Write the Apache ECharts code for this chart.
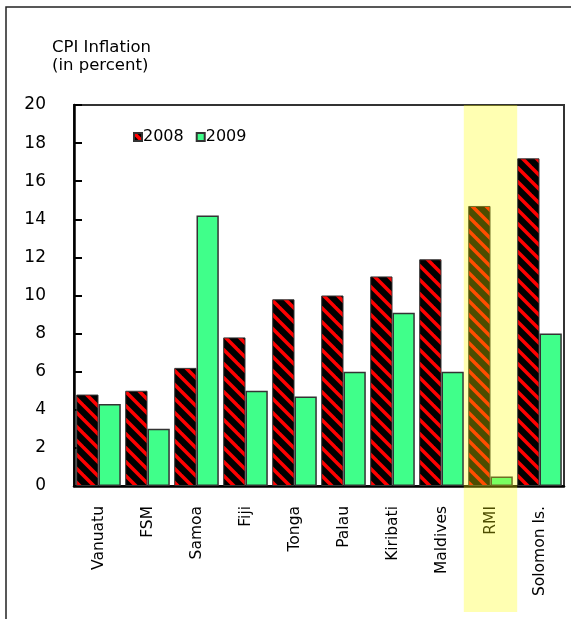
<!DOCTYPE html>
<html>
<head>
<meta charset="utf-8">
<title>CPI Inflation</title>
<script src="https://cdn.jsdelivr.net/npm/echarts@6/dist/echarts.min.js"></script>
<style>
  body { margin: 0; background: #fff; }
</style>
</head>
<body>
<!-- 为 ECharts 准备一个定义了宽高的 DOM -->
<div id="cpiChart" style="width: 571px;height:619px;"></div>

<script>
// data
var countries = ['Vanuatu', 'FSM', 'Samoa', 'Fiji', 'Tonga', 'Palau', 'Kiribati', 'Maldives', 'RMI', 'Solomon Is.'];
var cpi2008 = [4.8, 5.0, 6.2, 7.8, 9.8, 10.0, 11.0, 11.9, 14.7, 17.2];
var cpi2009 = [4.3, 3.0, 14.2, 5.0, 4.7, 6.0, 9.1, 6.0, 0.5, 8.0];
var yTicks = [0, 2, 4, 6, 8, 10, 12, 14, 16, 18, 20];
var highlight = 'RMI';

var font = 'DejaVu Sans, sans-serif';

// black with red diagonal stripes for 2008
function stripePattern() {
  var p = 14;
  var c = document.createElement('canvas');
  c.width = p;
  c.height = p;
  var ctx = c.getContext('2d');
  ctx.fillStyle = '#000';
  ctx.fillRect(0, 0, p, p);
  ctx.strokeStyle = '#ff0000';
  ctx.lineWidth = 3.5;
  for (var k = -1; k <= 1; k++) {
    ctx.beginPath();
    ctx.moveTo(k * p - 2, -2);
    ctx.lineTo(k * p + p + 2, p + 2);
    ctx.stroke();
  }
  return c;
}

var cpiChart = echarts.init(document.getElementById('cpiChart'));

var option = {
  animation: false,
  title: {
    text: 'CPI Inflation\n(in percent)',
    left: 52,
    top: 39,
    padding: 0,
    textStyle: { fontFamily: font, fontSize: 16.5, fontWeight: 'normal', color: '#000', lineHeight: 18 }
  },
  legend: {
    left: 133,
    top: 129,
    padding: 0,
    itemWidth: 8,
    itemHeight: 8,
    itemGap: 12,
    icon: 'rect',
    textStyle: { fontFamily: font, fontSize: 16, color: '#000', padding: [0, 0, 0, -4] },
    data: ['2008', '2009']
  },
  grid: {
    left: 74,
    right: 7,
    top: 105,
    bottom: 133,
    show: true,
    borderColor: '#333',
    borderWidth: 2
  },
  xAxis: {
    type: 'category',
    data: countries,
    axisLine: { lineStyle: { color: '#000', width: 2.5 } },
    axisTick: { inside: true, length: 4, lineStyle: { color: '#555' } },
    axisLabel: { rotate: 90, margin: 20, interval: 0, fontFamily: font, fontSize: 15.5, color: '#000' }
  },
  yAxis: {
    type: 'value',
    min: yTicks[0],
    max: yTicks[yTicks.length - 1],
    interval: yTicks[1] - yTicks[0],
    splitLine: { show: false },
    axisLine: { show: true, lineStyle: { color: '#000', width: 2.5 } },
    axisTick: { show: true, inside: true, length: 8, lineStyle: { color: '#000', width: 2 } },
    axisLabel: { margin: 28, fontFamily: font, fontSize: 17, color: '#000' }
  },
  series: [
    {
      name: '2008',
      type: 'bar',
      data: cpi2008,
      barCategoryGap: '9%',
      barGap: '0%',
      itemStyle: { color: { image: stripePattern(), repeat: 'repeat' }, borderColor: '#333', borderWidth: 1 }
    },
    {
      name: '2009',
      type: 'bar',
      data: cpi2009,
      itemStyle: { color: '#40ff8a', borderColor: '#333', borderWidth: 1.5 }
    }
  ]
};

cpiChart.setOption(option);

// outer frame and the yellow band over RMI, placed from the axes
var cx = cpiChart.convertToPixel({ xAxisIndex: 0 }, highlight);
var catW = cpiChart.convertToPixel({ xAxisIndex: 0 }, countries[1]) - cpiChart.convertToPixel({ xAxisIndex: 0 }, countries[0]);
var yTop = cpiChart.convertToPixel({ yAxisIndex: 0 }, yTicks[yTicks.length - 1]);
var bandW = catW * 1.09;

cpiChart.setOption({
  graphic: [
    {
      type: 'rect',
      z: 100,
      silent: true,
      shape: { x: cx - bandW / 2, y: yTop, width: bandW, height: 612 - yTop },
      style: { fill: 'rgba(255,255,0,0.3)' }
    },
    {
      type: 'rect',
      z: 100,
      silent: true,
      shape: { x: 6, y: 7, width: 700, height: 700 },
      style: { fill: 'none', stroke: '#222', lineWidth: 1.5 }
    }
  ]
});
</script>
</body>
</html>
